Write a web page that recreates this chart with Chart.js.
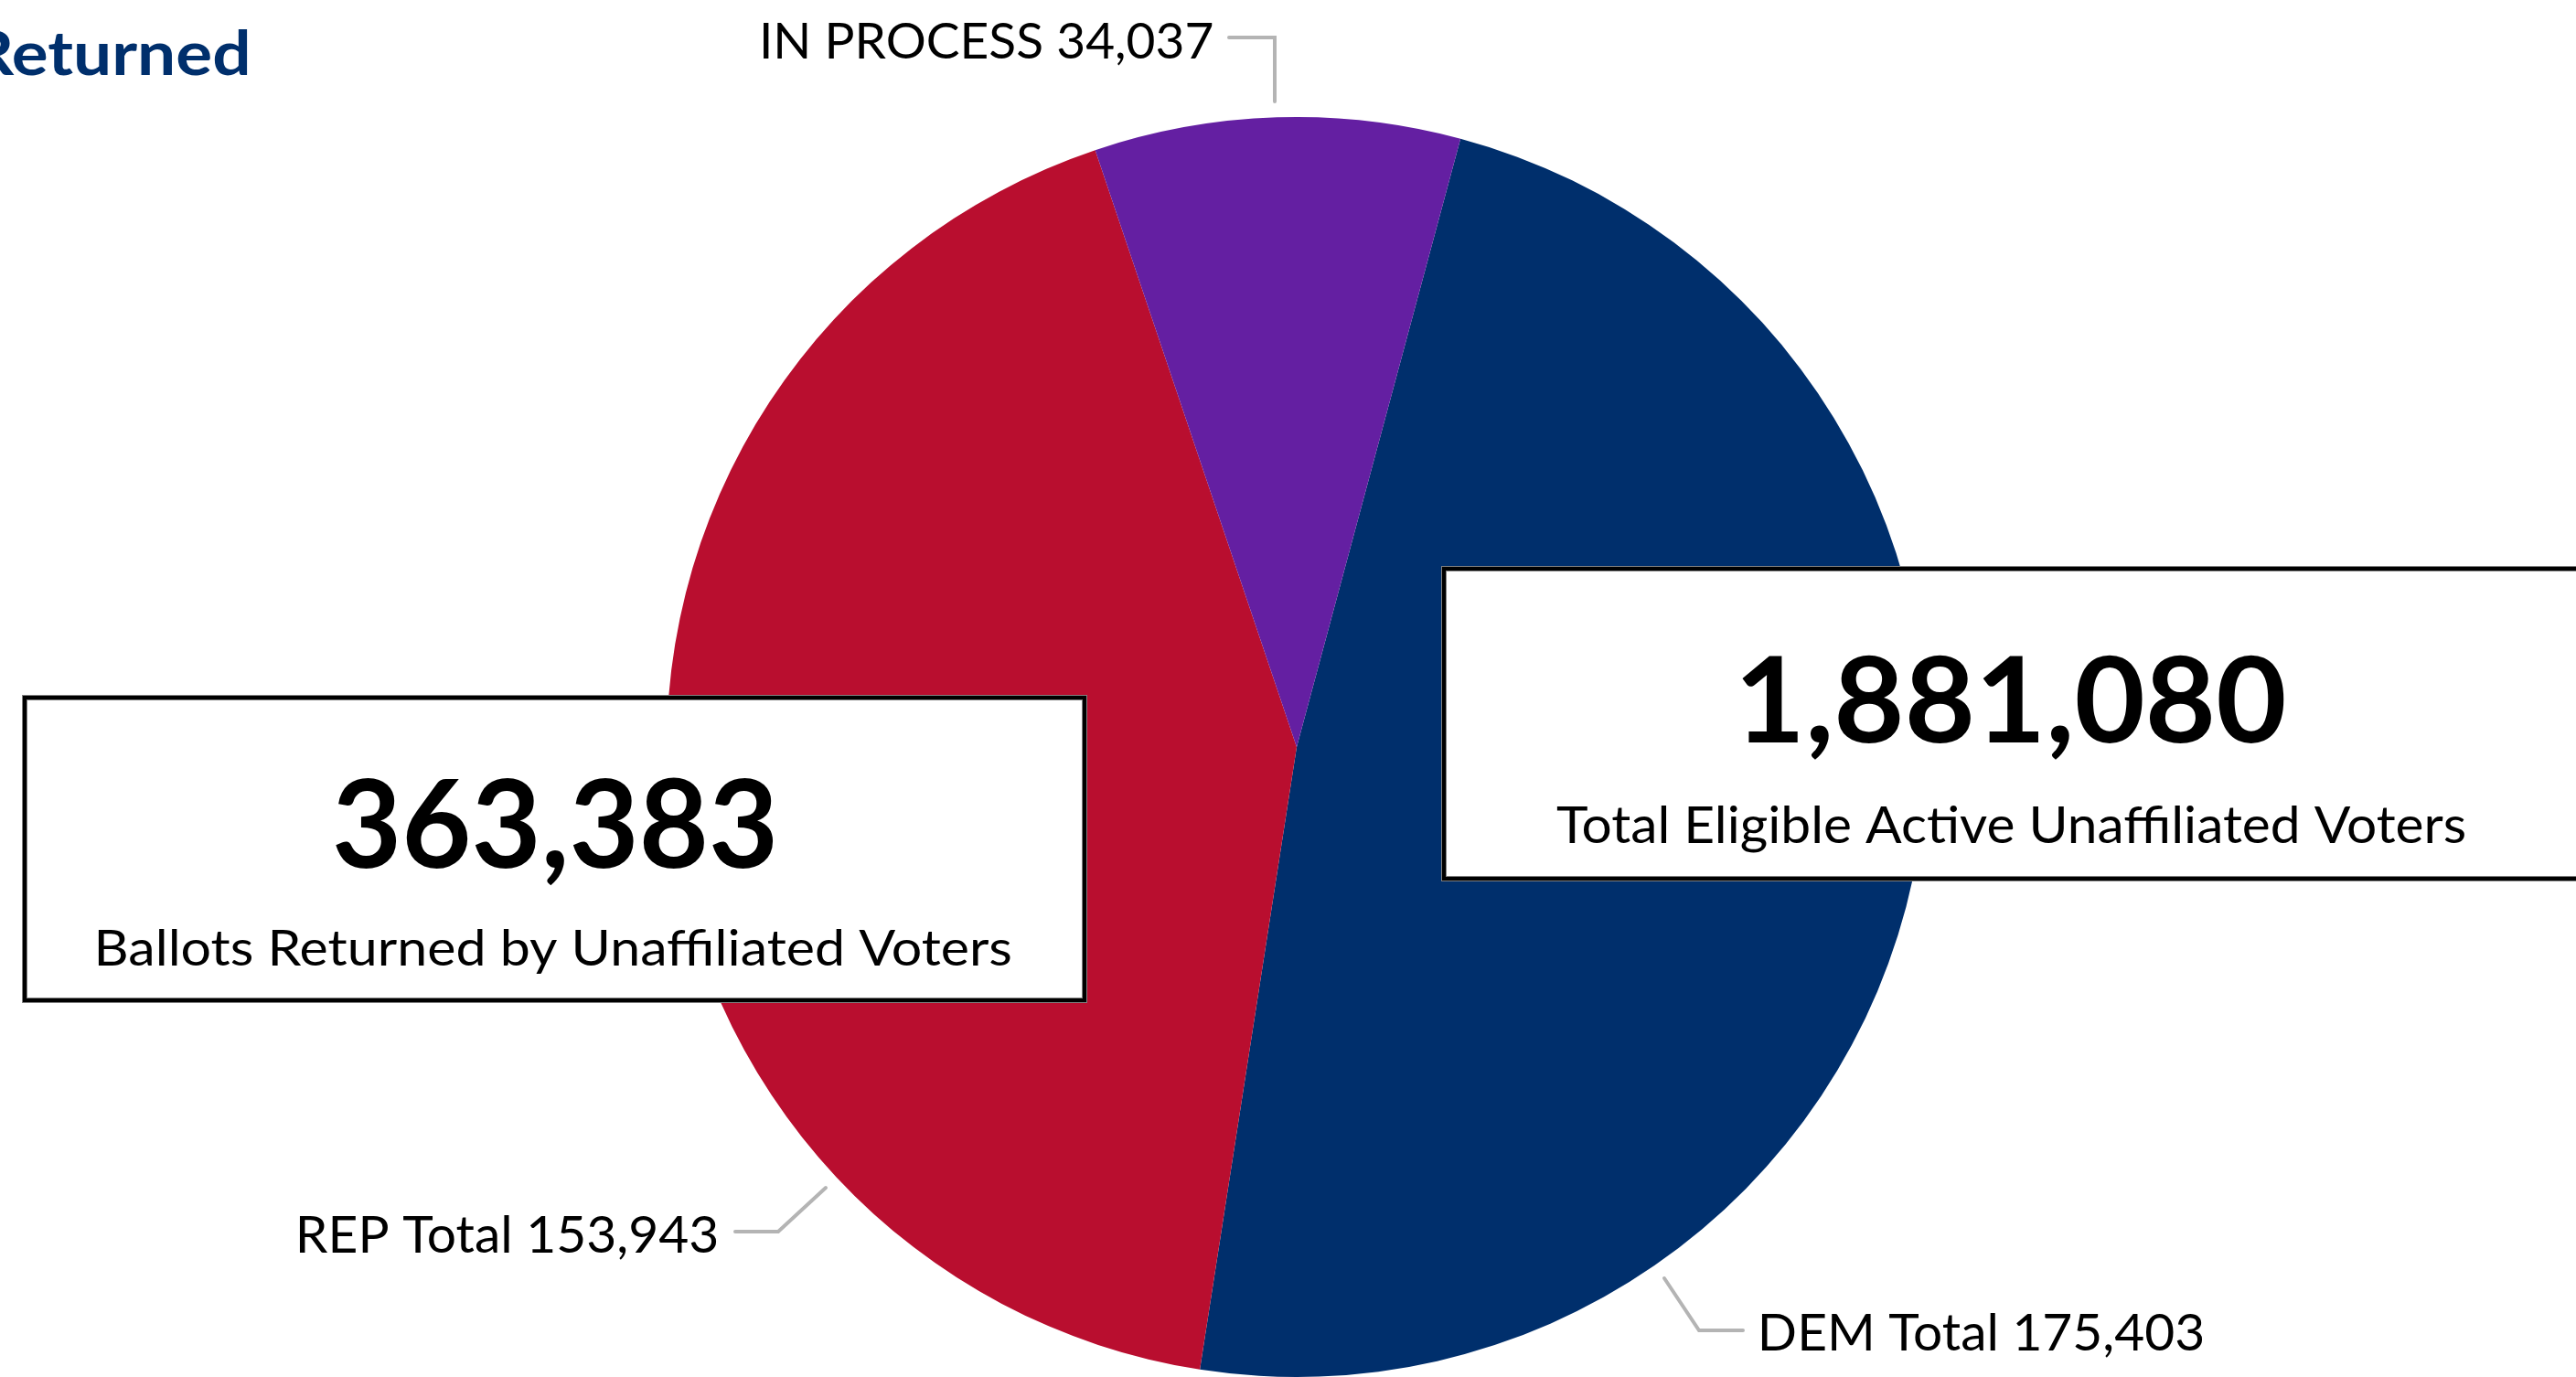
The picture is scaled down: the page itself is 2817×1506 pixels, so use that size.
<!DOCTYPE html>
<html>
<head>
<meta charset="utf-8">
<script src="https://cdn.jsdelivr.net/npm/chart.js@4/dist/chart.umd.min.js"></script>
<style>
  html, body { margin: 0; padding: 0; background: #ffffff; overflow: hidden; }
  #wrap { position: relative; width: 2817px; height: 1506px; }
</style>
</head>
<body>
<div id="wrap"><canvas id="c" width="2817" height="1506"></canvas></div>
<script>
// ---- data ----
const categories = ['DEM Total', 'REP Total', 'IN PROCESS'];
const ballotsReturned = [175403, 153943, 34037];
const eligibleActiveUnaffiliated = 1881080;
const titleText = 'Returned';
const returnedCaption = 'Ballots Returned by Unaffiliated Voters';
const eligibleCaption = 'Total Eligible Active Unaffiliated Voters';

// ---- style ----
const sliceColors = ['#002F6C', '#B90E2F', '#641FA2'];
const NAVY = '#002F6C';
const LEADER = '#B4B4B4';
const FONT = 'Lato, "Open Sans", sans-serif';

const fmt = v => v.toLocaleString('en-US');
const totalReturned = ballotsReturned.reduce((a, b) => a + b, 0);

let capRatioCache = {};
function capRatio(ctx, weight) {
  if (capRatioCache[weight]) return capRatioCache[weight];
  ctx.save();
  ctx.font = weight + ' 100px ' + FONT;
  const r = ctx.measureText('H').actualBoundingBoxAscent / 100;
  ctx.restore();
  capRatioCache[weight] = r || 0.7165;
  return capRatioCache[weight];
}

// draw text so that its ink spans x0..x1 with given baseline and cap height
function fitText(ctx, text, x0, x1, baseline, capH, weight, color) {
  const size = capH / capRatio(ctx, weight);
  ctx.save();
  ctx.font = weight + ' ' + size + 'px ' + FONT;
  ctx.textAlign = 'left';
  ctx.textBaseline = 'alphabetic';
  const m = ctx.measureText(text);
  const inkW = m.actualBoundingBoxLeft + m.actualBoundingBoxRight;
  const sx = (x1 - x0) / inkW;
  ctx.translate(x0 + m.actualBoundingBoxLeft * sx, baseline);
  ctx.scale(sx, 1);
  ctx.fillStyle = color || '#000';
  ctx.fillText(text, 0, 0);
  ctx.restore();
}

function leader(ctx, pts) {
  ctx.save();
  ctx.strokeStyle = LEADER;
  ctx.lineWidth = 4;
  ctx.lineJoin = 'miter';
  ctx.lineCap = 'round';
  ctx.beginPath();
  ctx.moveTo(pts[0][0], pts[0][1]);
  for (let i = 1; i < pts.length; i++) ctx.lineTo(pts[i][0], pts[i][1]);
  ctx.stroke();
  ctx.restore();
}

function box(ctx, x0, y0, x1, y1) {
  ctx.save();
  ctx.fillStyle = '#ffffff';
  ctx.fillRect(x0, y0, x1 - x0, y1 - y0);
  ctx.strokeStyle = '#808080';
  ctx.lineWidth = 6;
  ctx.strokeRect(x0, y0, x1 - x0, y1 - y0);
  ctx.strokeStyle = '#000000';
  ctx.lineWidth = 4;
  ctx.strokeRect(x0, y0, x1 - x0, y1 - y0);
  ctx.restore();
}

const overlay = {
  id: 'overlay',
  afterDraw(chart) {
    const ctx = chart.ctx;

    // title (partly cut off at the left edge)
    {
      const weight = 'bold';
      const capH = 49;
      const size = capH / capRatio(ctx, weight);
      ctx.save();
      ctx.font = weight + ' ' + size + 'px ' + FONT;
      const mPart = ctx.measureText(titleText.slice(1));
      const sx = (270 - 15) / (mPart.actualBoundingBoxLeft + mPart.actualBoundingBoxRight);
      const mAll = ctx.measureText(titleText);
      ctx.translate(270 - mAll.actualBoundingBoxRight * sx, 82);
      ctx.scale(sx, 1);
      ctx.fillStyle = NAVY;
      ctx.fillText(titleText, 0, 0);
      ctx.restore();
    }

    // slice labels with leader lines
    fitText(ctx, categories[2] + ' ' + fmt(ballotsReturned[2]), 834, 1326, 64, 39.5, 'normal');
    leader(ctx, [[1344, 41], [1394, 41], [1394, 111]]);

    fitText(ctx, categories[1] + ' ' + fmt(ballotsReturned[1]), 328, 784, 1370, 40.5, 'normal');
    leader(ctx, [[804, 1347], [851, 1347], [903, 1299]]);

    fitText(ctx, categories[0] + ' ' + fmt(ballotsReturned[0]), 1927, 2409, 1477, 40.5, 'normal');
    leader(ctx, [[1820, 1398], [1858, 1455], [1906, 1455]]);

    // left box: ballots returned
    box(ctx, 27, 763, 1186, 1094);
    fitText(ctx, fmt(totalReturned), 367, 846, 949, 97.5, 'bold');
    fitText(ctx, returnedCaption, 108, 1105, 1056, 40, 'normal');

    // right box: eligible voters
    box(ctx, 1579, 622, 2830, 961);
    fitText(ctx, fmt(eligibleActiveUnaffiliated), 1905, 2498, 812, 95, 'bold');
    fitText(ctx, eligibleCaption, 1702, 2695, 922, 40.5, 'normal');
  }
};

new Chart(document.getElementById('c'), {
  type: 'pie',
  data: {
    labels: categories,
    datasets: [{
      data: ballotsReturned,
      backgroundColor: sliceColors,
      borderWidth: 0
    }]
  },
  options: {
    responsive: false,
    animation: false,
    devicePixelRatio: 1,
    rotation: 15.07,
    layout: { padding: { left: 729, right: 710, top: 128, bottom: 0 } },
    plugins: {
      legend: { display: false },
      tooltip: { enabled: false },
      title: { display: false }
    }
  },
  plugins: [overlay]
});
</script>
</body>
</html>
